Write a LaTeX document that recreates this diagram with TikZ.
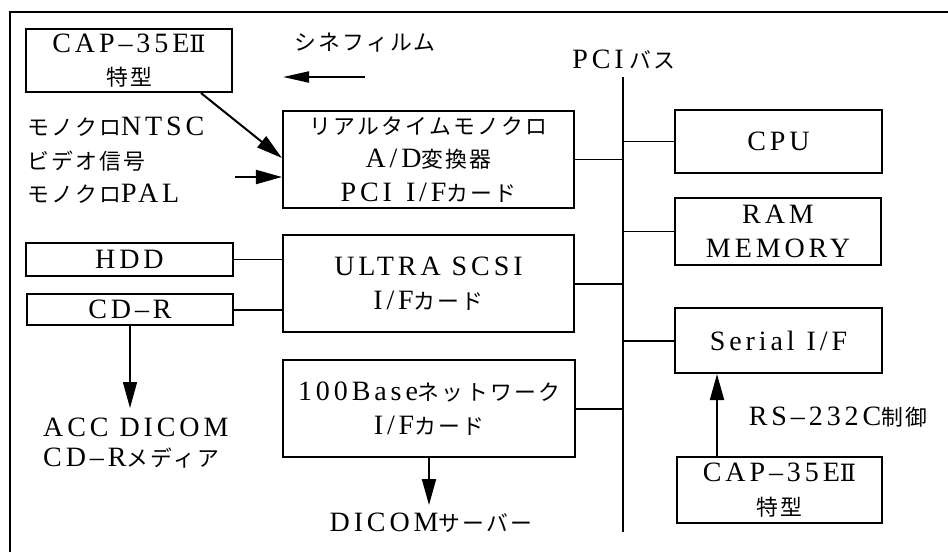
\documentclass[tikz,border=0pt]{standalone}
\usepackage{fontspec}
\setmainfont{Liberation Serif}[LetterSpace=14]
\newfontfamily\jp{Noto Sans CJK JP}[LetterSpace=10,Scale=0.78]
\newfontfamily\rom{DejaVu Serif}[Scale=0.85]
\usetikzlibrary{arrows.meta}
\newcommand{\twoR}{{\rom Ⅱ}}
\tikzset{
  box/.style={draw, line width=2.1pt, inner sep=0pt, align=center},
  conn/.style={line width=2pt},
  thinconn/.style={line width=1.4pt},
  arr/.style={-{Triangle[length=26pt,width=14pt]}, line width=2pt},
  thinarr/.style={-{Triangle[length=26pt,width=14pt]}, line width=1.4pt},
  lbl/.style={inner sep=0pt, align=center},
}
\begin{document}
\begin{tikzpicture}[x=1pt,y=-1pt,font=\fontsize{28}{33.5}\selectfont]
\useasboundingbox[fill=white] (0,0) rectangle (948,552);
% frame
\draw[line width=1.5pt] (10,552) -- (10,12) -- (948,12);

% boxes
\node[box, minimum width=206pt, minimum height=63pt] (cap1) at (129,60.5) {CAP–35E\twoR\\{\jp 特型}};
\node[box, minimum width=291pt, minimum height=97pt] (ad) at (428.5,159.5) {{\jp リアルタイムモノクロ}\\A/D{\jp 変換器}\\PCI\hspace{14pt}I/F{\jp カード}};
\node[box, minimum width=207pt, minimum height=63pt] (cpu) at (778.5,141.5) {CPU};
\node[box, minimum width=206pt, minimum height=67pt] (ram) at (778,231.5) {RAM\\MEMORY};
\node[box, minimum width=207pt, minimum height=65pt] (ser) at (778.5,340.5) {Serial\hspace{12pt}I/F};
\node[box, minimum width=291pt, minimum height=97pt] (scsi) at (428.5,283.5) {ULTRA SCSI\\I/F{\jp カード}};
\node[box, minimum width=207pt, minimum height=33pt] (hdd) at (129.5,259.5) {HDD};
\node[box, minimum width=206pt, minimum height=31pt] (cdr) at (130,309.5) {CD–R};
\node[box, minimum width=292pt, minimum height=97pt] (net) at (429,408.5) {100Base{\jp ネットワーク}\\I/F{\jp カード}};
\node[box, minimum width=205pt, minimum height=66pt] (cap2) at (779.5,490) {CAP–35E\twoR\\{\jp 特型}};

% labels
\node[lbl] (cine) at (365,43) {\jp シネフィルム};
\node[lbl] (pcibus) at (624,60) {PCI\hspace{6pt}{\jp バス}};
\node[lbl, anchor=west] (ntsc) at (27,127) {{\jp モノクロ}NTSC};
\node[lbl, anchor=west] (video) at (27,161) {\jp ビデオ信号};
\node[lbl, anchor=west] (pal) at (27,194) {{\jp モノクロ}PAL};
\node[lbl, anchor=west] (acc) at (43,427) {ACC DICOM};
\node[lbl, anchor=west] (media) at (43,458) {CD–R{\jp メディア}};
\node[lbl] (dicom) at (431,523) {DICOM{\jp サーバー}};
\node[lbl] (rs) at (838,417) {RS–232C{\jp 制御}};

% bus
\coordinate (busT) at (623,77);
\coordinate (busB) at (623,532);
\draw[line width=2.4pt] (busT) -- (busB);
\draw[thinconn] (ad.east) -- (ad.east -| busT);
\draw[thinconn] (cpu.west) -- (cpu.west -| busT);
\draw[line width=1.7pt] (ram.west) -- (ram.west -| busT);
\draw[conn] (ser.west) -- (ser.west -| busT);
\draw[conn] (scsi.east) -- (scsi.east -| busT);
\draw[conn] (net.east) -- (net.east -| busT);

% drives
\draw[thinconn] (hdd.east) -- (hdd.east -| scsi.west);
\draw[conn] (cdr.east) -- (cdr.east -| scsi.west);

% arrows
\coordinate (cineS) at (365,77);
\coordinate (cineE) at (283,77);
\draw[-{Triangle[length=26pt,width=11pt]}, line width=2pt] (cineS) -- (cineE);
\draw[arr] ([xshift=72pt]cap1.south) -- ([yshift=1.5pt]ad.west);
\coordinate (vin) at (235,177);
\draw[arr] (vin) -- (vin -| ad.west);
\coordinate (acctip) at (130,408);
\draw[thinarr] (cdr.south) -- (acctip);
\coordinate (dtip) at (429,505);
\draw[arr] (net.south) -- (dtip);
\coordinate (sx) at (717,0);
\draw[arr] (cap2.north -| sx) -- (ser.south -| sx);
\end{tikzpicture}
\end{document}
